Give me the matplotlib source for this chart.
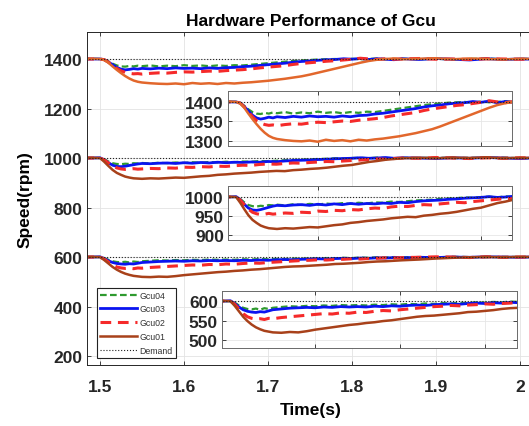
import matplotlib
matplotlib.use("Agg")
import matplotlib.pyplot as plt

plt.rcParams['font.family'] = ['Liberation Sans', 'DejaVu Sans']
plt.rcParams['font.weight'] = 'bold'

# time samples (s)
t = [1.48, 1.49, 1.50,
     1.505, 1.51, 1.515, 1.52, 1.525, 1.53, 1.535, 1.54, 1.545,
     1.55, 1.56, 1.57, 1.58, 1.59, 1.60, 1.61, 1.62, 1.63, 1.64,
     1.65, 1.66, 1.67, 1.68, 1.69, 1.70, 1.71, 1.72, 1.73, 1.74,
     1.75, 1.76, 1.77, 1.78, 1.79, 1.80, 1.81, 1.82, 1.83, 1.84, 1.85, 1.86,
     1.88, 1.90, 1.92, 1.94, 1.96, 1.98, 2.00, 2.02]

demand = [1400, 1000, 600]

# 1400 rpm step
gcu04_1400 = [1400, 1401, 1400,
              1398, 1390, 1381, 1374, 1370, 1369, 1372, 1370, 1373,
              1371, 1374, 1370, 1373, 1371, 1375, 1372, 1374, 1371, 1374,
              1372, 1375, 1374, 1377, 1380, 1383, 1386, 1389, 1392, 1394,
              1396, 1398, 1399, 1400, 1398, 1401, 1399, 1400, 1402, 1399, 1400, 1401,
              1399, 1401, 1398, 1400, 1402, 1399, 1400, 1401]
gcu03_1400 = [1400, 1400, 1400,
              1397, 1388, 1377, 1366, 1359, 1356, 1358, 1361, 1359,
              1362, 1360, 1363, 1361, 1364, 1362, 1363, 1361, 1364, 1362,
              1365, 1366, 1369, 1371, 1374, 1377, 1380, 1383, 1387, 1390,
              1392, 1395, 1397, 1398, 1401, 1399, 1402, 1398, 1401, 1399, 1397, 1401,
              1398, 1402, 1399, 1396, 1401, 1398, 1400, 1399]
gcu02_1400 = [1400, 1400, 1400,
              1397, 1387, 1374, 1362, 1352, 1346, 1342, 1340, 1341,
              1339, 1342, 1344, 1343, 1346, 1348, 1347, 1349, 1351, 1350,
              1353, 1355, 1357, 1360, 1364, 1367, 1370, 1373, 1378, 1382,
              1385, 1388, 1391, 1393, 1396, 1399, 1403, 1400, 1398, 1401, 1399, 1400,
              1402, 1399, 1400, 1398, 1401, 1400, 1399, 1400]
gcu01_1400 = [1400, 1401, 1400,
              1396, 1385, 1370, 1356, 1343, 1331, 1321, 1313, 1308,
              1305, 1302, 1300, 1299, 1301, 1298, 1303, 1300, 1302, 1299,
              1303, 1301, 1304, 1306, 1309, 1312, 1316, 1320, 1325, 1330,
              1337, 1345, 1353, 1361, 1369, 1377, 1385, 1392, 1397, 1400, 1402, 1399,
              1401, 1403, 1399, 1402, 1400, 1398, 1401, 1400]

# 1000 rpm step
gcu04_1000 = [1000, 1000, 1000,
              995, 986, 979, 976, 975, 977, 976, 979, 978,
              980, 978, 981, 979, 982, 980, 983, 981, 984, 982,
              985, 983, 986, 985, 988, 987, 989, 991, 992, 993,
              995, 996, 997, 999, 998, 1000, 1001, 999, 1002, 1000, 999, 1001,
              1000, 1002, 999, 1001, 1000, 1002, 999, 1000]
gcu03_1000 = [1000, 1000, 1001,
              993, 981, 971, 966, 965, 967, 970, 973, 976,
              978, 977, 979, 980, 978, 981, 979, 982, 980, 983,
              981, 983, 982, 984, 983, 986, 985, 988, 990, 991,
              992, 994, 995, 997, 998, 999, 1001, 999, 1000, 1002, 999, 1001,
              1000, 998, 1001, 999, 1002, 1000, 998, 1001]
gcu02_1000 = [1000, 1000, 1000,
              992, 980, 968, 960, 956, 954, 955, 957, 955,
              956, 958, 957, 960, 959, 963, 962, 965, 964, 967,
              966, 969, 971, 970, 974, 976, 975, 978, 980, 979,
              982, 984, 986, 985, 988, 990, 992, 994, 996, 995, 998, 1000,
              999, 1002, 1000, 998, 1001, 999, 1001, 1000]
gcu01_1000 = [1000, 1001, 1000,
              985, 968, 952, 940, 932, 925, 921, 918, 917,
              916, 918, 917, 919, 921, 920, 923, 926, 928, 932,
              934, 937, 939, 941, 944, 946, 948, 947, 951, 953,
              956, 958, 961, 965, 969, 972, 978, 984, 988, 993, 996, 999,
              1001, 999, 1002, 1000, 1003, 999, 1001, 1000]

# 600 rpm step
gcu04_600 = [600, 600, 600,
             596, 589, 583, 580, 579, 581, 578, 582, 580,
             583, 585, 587, 586, 588, 587, 589, 588, 590, 589,
             590, 589, 591, 590, 592, 591, 593, 592, 594, 593,
             595, 594, 596, 595, 597, 596, 598, 597, 599, 598, 600, 599,
             600, 599, 601, 600, 599, 601, 600, 600]
gcu03_600 = [600, 600, 601,
             594, 585, 578, 574, 572, 571, 573, 572, 575,
             578, 580, 582, 583, 584, 583, 585, 584, 586, 585,
             586, 585, 587, 586, 588, 587, 589, 590, 589, 591,
             592, 593, 592, 594, 595, 594, 596, 595, 597, 596, 598, 597,
             599, 598, 600, 599, 601, 600, 599, 601]
gcu02_600 = [600, 600, 600,
             592, 580, 568, 560, 556, 554, 555, 553, 556,
             555, 558, 560, 562, 564, 566, 568, 567, 570, 569,
             572, 571, 574, 576, 575, 578, 580, 582, 584, 586,
             587, 589, 588, 590, 591, 593, 592, 594, 595, 597, 596, 598,
             599, 601, 600, 598, 601, 599, 600, 600]
gcu01_600 = [600, 601, 600,
             588, 574, 560, 549, 540, 533, 528, 524, 522,
             520, 519, 521, 520, 523, 527, 530, 533, 536, 539,
             541, 544, 546, 549, 551, 554, 557, 560, 562, 563,
             565, 567, 569, 572, 573, 575, 577, 580, 582, 583, 585, 587,
             590, 594, 597, 599, 601, 599, 601, 600]

groups = [
    (demand[0], gcu04_1400, gcu03_1400, gcu02_1400, gcu01_1400, '#e2672c'),
    (demand[1], gcu04_1000, gcu03_1000, gcu02_1000, gcu01_1000, '#a8411a'),
    (demand[2], gcu04_600, gcu03_600, gcu02_600, gcu01_600, '#a8411a'),
]
for g in groups:
    for s in g[1:5]:
        assert len(s) == len(t)


def draw_group(a, g, labels=False):
    level, g4, g3, g2, g1, c1 = g
    h4, = a.plot(t, g4, color='#2f9a2f', ls=(0, (3, 1.5)), lw=1.6,
                 label='Gcu04' if labels else None)
    h3, = a.plot(t, g3, color='#0a14f0', ls='-', lw=2.0,
                 label='Gcu03' if labels else None)
    h2, = a.plot(t, g2, color='#f52a2a', ls=(0, (3.5, 2.2)), lw=2.2,
                 label='Gcu02' if labels else None)
    h1, = a.plot(t, g1, color=c1, ls='-', lw=1.8,
                 label='Gcu01' if labels else None)
    hd, = a.plot([t[0], t[-1]], [level, level], color='#222222', ls=':', lw=0.8,
                 label='Demand' if labels else None)
    return [h4, h3, h2, h1, hd]


fig = plt.figure(figsize=(5.29, 4.27), dpi=100)
ax = fig.add_axes([87 / 529, 1 - 366 / 427, 448 / 529, 333 / 427])

handles = None
for i, g in enumerate(groups):
    h = draw_group(ax, g, labels=(i == 1))
    if i == 1:
        handles = h

ax.set_xlim(1.4845, 2.018)
ax.set_ylim(164, 1509)
ax.set_xticks([1.5, 1.6, 1.7, 1.8, 1.9, 2.0])
ax.set_xticklabels(['1.5', '1.6', '1.7', '1.8', '1.9', '2'])
ax.set_yticks([200, 400, 600, 800, 1000, 1200, 1400])
ax.grid(color='#e3e3e3', lw=0.6)
ax.tick_params(direction='in', top=True, right=True, length=3, width=0.6,
               labelsize=12.5, colors='#262626')
ax.tick_params(axis='x', pad=10)
for s in ax.spines.values():
    s.set_color('#262626')
    s.set_linewidth(0.7)
ax.set_title('Hardware Performance of Gcu', fontsize=12.5, fontweight='bold', pad=5)
ax.set_xlabel('Time(s)', fontsize=12.5, fontweight='bold', labelpad=6)
ax.set_ylabel('Speed(rpm)', fontsize=12.5, fontweight='bold', labelpad=8)

leg = ax.legend(handles=handles, loc='lower left',
                bbox_to_anchor=(10 / 448, 7 / 333), borderaxespad=0,
                prop={'weight': 'normal', 'size': 6.3}, fancybox=False,
                framealpha=1, edgecolor='#222222', handlelength=4.2,
                handletextpad=0.3, labelspacing=0.55, borderpad=0.35)
leg.get_frame().set_linewidth(0.8)
for txt in leg.get_texts():
    txt.set_color('#333333')

# zoomed insets
insets = [
    ([228 / 529, 1 - 147 / 427, 284 / 529, 55 / 427], (1287, 1428), [1300, 1350, 1400]),
    ([228 / 529, 1 - 241 / 427, 284 / 529, 54 / 427], (887, 1029), [900, 950, 1000]),
    ([222 / 529, 1 - 349 / 427, 295 / 529, 57 / 427], (480, 626), [500, 550, 600]),
]
for g, (rect, ylim, yticks) in zip(groups, insets):
    a = fig.add_axes(rect)
    draw_group(a, g)
    a.set_xlim(1.49, 1.838)
    a.set_ylim(ylim)
    a.set_xticks([1.6, 1.7, 1.8])
    a.set_xticklabels([])
    a.set_yticks(yticks)
    a.grid(color='#e6e6e6', lw=0.6)
    a.tick_params(direction='in', top=True, right=True, length=3, width=0.6,
                  labelsize=12.5, colors='#262626', pad=3)
    for s in a.spines.values():
        s.set_color('#6a6a6a')
        s.set_linewidth(0.7)

fig.savefig('out.png', dpi=100)
